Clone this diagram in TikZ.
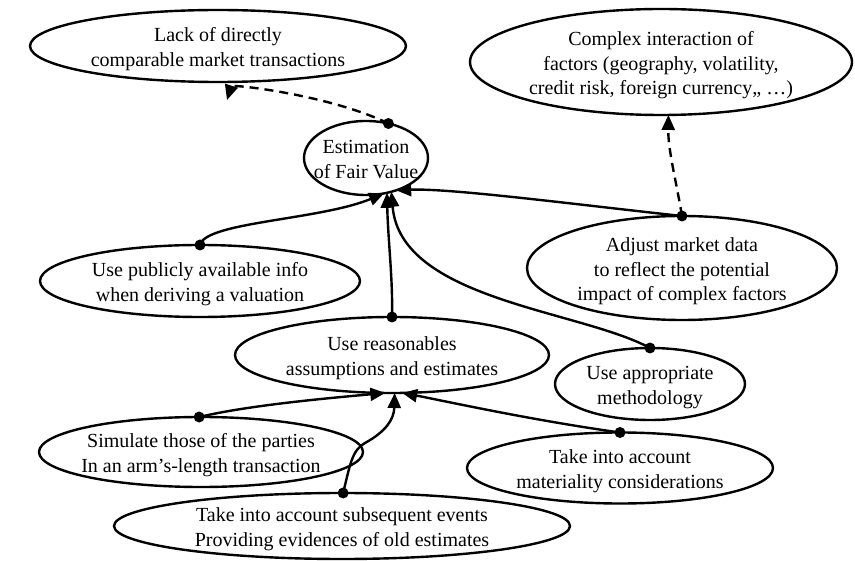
\documentclass[tikz,border=0pt]{standalone}
\usepackage{fontspec}
\setmainfont{Liberation Serif}
\usetikzlibrary{arrows.meta,shapes.geometric}
\newcommand\elltext[1]{\raisebox{-8.5pt}[0pt][0pt]{\begin{tabular}{@{}c@{}}#1\end{tabular}}}
\begin{document}
\begin{tikzpicture}[x=1pt,y=-1pt,
  ell/.style={draw,ellipse,line width=2.4pt,inner xsep=-60pt,inner ysep=0pt,outer sep=0pt,font=\fontsize{20}{24.5}\selectfont},
  conn/.style={line width=2.4pt,-{Triangle[length=15pt,width=13pt]}},
  dashconn/.style={conn,dash pattern=on 9pt off 6pt},
  dotmark/.style={circle,fill=black,inner sep=0pt,minimum size=11pt}
]
\useasboundingbox (0,0) rectangle (855,561);
\node[ell,minimum width=376pt,minimum height=72pt] (lack) at (218,46) {\elltext{Lack of directly\\comparable market transactions}};
\node[ell,minimum width=382pt,minimum height=106pt] (cx) at (661,62) {\elltext{Complex interaction of\\factors (geography, volatility,\\credit risk, foreign currency,, \dots)}};
\node[ell,minimum width=124pt,minimum height=74pt] (est) at (366,158) {\elltext{Estimation\\of Fair Value}};
\node[ell,minimum width=310pt,minimum height=104pt] (adj) at (682,268) {\elltext{Adjust market data\\to reflect the potential\\impact of complex factors}};
\node[ell,minimum width=320pt,minimum height=72pt] (pub) at (200,281) {\elltext{Use publicly available info\\when deriving a valuation}};
\node[ell,minimum width=314pt,minimum height=76pt] (reas) at (392,355) {\elltext{Use reasonables\\assumptions and estimates}};
\node[ell,minimum width=190pt,minimum height=72pt] (meth) at (650,384) {\elltext{Use appropriate\\methodology}};
\node[ell,minimum width=324pt,minimum height=70pt] (sim) at (201,452) {\elltext{Simulate those of the parties\\In an arm's-length transaction}};
\node[ell,minimum width=306pt,minimum height=71pt] (mat) at (620,468) {\elltext{Take into account\\materiality considerations}};
\node[ell,minimum width=456pt,minimum height=66pt] (sub) at (342,526) {\elltext{Take into account subsequent events\\Providing evidences of old estimates}};
\coordinate (lacktip) at (227,100);
% connectors
\draw[dashconn] (est.57) .. controls (330,95) and (232,84) .. (lacktip);
\draw[dashconn] (adj.north) .. controls (676,180) and (668,150) .. (cx.-82);
\draw[conn] (adj.north) .. controls (580,205) and (450,188) .. (est.-47);
\draw[conn] (pub.north) .. controls (205,222) and (320,220) .. (est.-63);
\draw[conn] (reas.north) .. controls (393,280) and (388,240) .. (est.-59);
\draw[conn] (meth.north) .. controls (580,310) and (400,300) .. (est.-53);
\draw[conn] (sim.93) .. controls (250,405) and (330,398) .. (reas.-100);
\draw[conn] (mat.north) .. controls (530,420) and (440,400) .. (reas.-75);
\draw[conn] (sub.88) .. controls (350,465) and (352,450) .. (365,443) .. controls (385,432) and (394,420) .. (reas.-86);
% dots
\node[dotmark] at (est.57) {};
\node[dotmark] at (adj.north) {};
\node[dotmark] at (pub.north) {};
\node[dotmark] at (reas.north) {};
\node[dotmark] at (meth.north) {};
\node[dotmark] at (sim.93) {};
\node[dotmark] at (mat.north) {};
\node[dotmark] at (sub.88) {};
\end{tikzpicture}
\end{document}
